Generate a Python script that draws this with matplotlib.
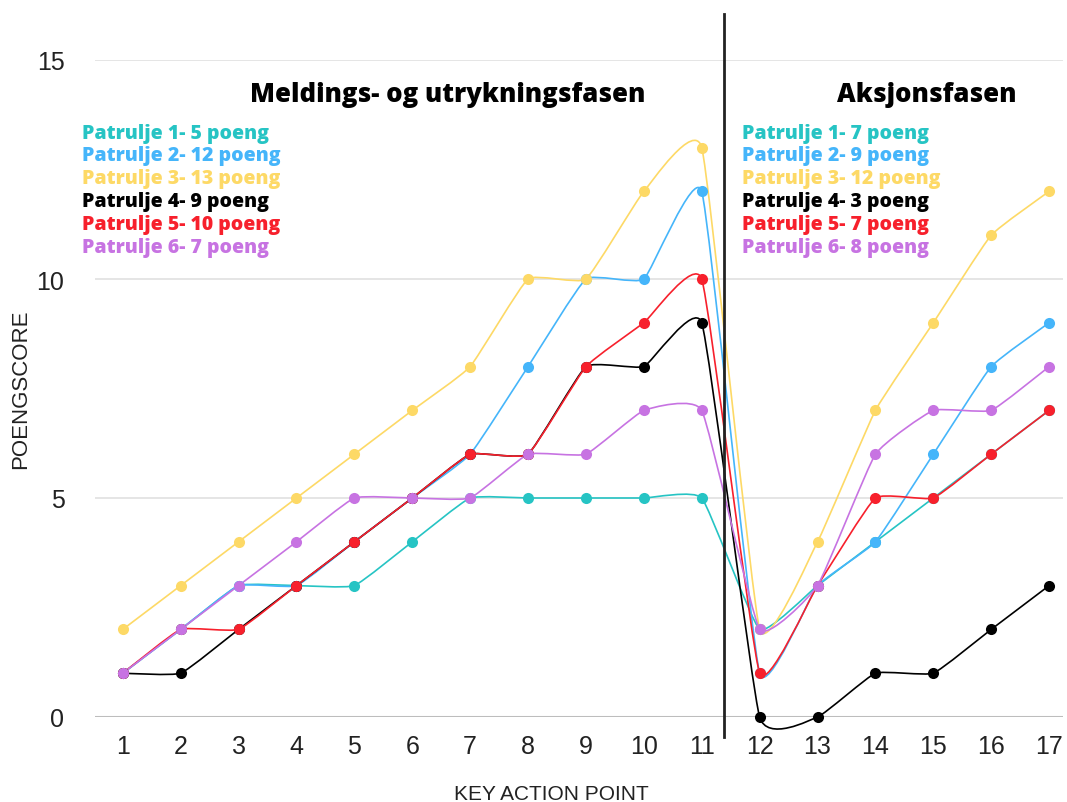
import numpy as np
import matplotlib
matplotlib.use("Agg")
import matplotlib.pyplot as plt
from matplotlib.path import Path
from matplotlib.patches import PathPatch

# key action points and scores
points = list(range(1, 18))
patrulje1 = [1, 2, 3, 3, 3, 4, 5, 5, 5, 5, 5, 2, 3, 4, 5, 6, 7]
patrulje2 = [1, 2, 3, 3, 4, 5, 6, 8, 10, 10, 12, 1, 3, 4, 6, 8, 9]
patrulje3 = [2, 3, 4, 5, 6, 7, 8, 10, 10, 12, 13, 2, 4, 7, 9, 11, 12]
patrulje4 = [1, 1, 2, 3, 4, 5, 6, 6, 8, 8, 9, 0, 0, 1, 1, 2, 3]
patrulje5 = [1, 2, 2, 3, 4, 5, 6, 6, 8, 9, 10, 1, 3, 5, 5, 6, 7]
patrulje6 = [1, 2, 3, 4, 5, 5, 5, 6, 6, 7, 7, 2, 3, 6, 7, 7, 8]

series = [patrulje1, patrulje2, patrulje3, patrulje4, patrulje5, patrulje6]
colors = ["#26c4c4", "#45b5fa", "#fdd966", "#000000", "#f7202c", "#c773e2"]

labels_fase1 = ["Patrulje 1- 5 poeng", "Patrulje 2- 12 poeng", "Patrulje 3- 13 poeng",
                "Patrulje 4- 9 poeng", "Patrulje 5- 10 poeng", "Patrulje 6- 7 poeng"]
labels_fase2 = ["Patrulje 1- 7 poeng", "Patrulje 2- 9 poeng", "Patrulje 3- 12 poeng",
                "Patrulje 4- 3 poeng", "Patrulje 5- 7 poeng", "Patrulje 6- 8 poeng"]


def smooth_path(x, y, s=0.065):
    # bezier path through the points, control points from neighbours
    p = np.column_stack([x, y]).astype(float)
    n = len(p)
    verts = [p[0]]
    codes = [Path.MOVETO]
    for i in range(n - 1):
        prev = p[i - 1] if i > 0 else p[i]
        nxt = p[i + 2] if i + 2 < n else p[i + 1]
        c1 = p[i] + (p[i + 1] - prev) * s
        c2 = p[i + 1] - (nxt - p[i]) * s
        verts += [c1, c2, p[i + 1]]
        codes += [Path.CURVE4] * 3
    return Path(verts, codes)


fig = plt.figure(figsize=(10.67, 8.03), dpi=100)
ax = fig.add_axes([95 / 1067, 85 / 803, 968 / 1067, 657 / 803])

for vals, c in zip(series, colors):
    ax.add_patch(PathPatch(smooth_path(points, vals), fill=False, edgecolor=c, lw=1.2,
                           zorder=3, clip_on=False))
    ax.plot(points, vals, "o", color=c, ms=8, mec="none", zorder=4, clip_on=False)

ax.set_xlim(0.52, 17.24)
ax.set_ylim(0, 15)
ax.set_xticks(points)
ax.set_yticks([0, 5, 10, 15])
for side in ["top", "right", "left", "bottom"]:
    ax.spines[side].set_visible(False)
ax.tick_params(length=0, labelsize=18, pad=12)
ax.tick_params(axis="y", pad=22)
for lab in ax.get_xticklabels() + ax.get_yticklabels():
    lab.set_family(["Liberation Sans", "DejaVu Sans"])
    lab.set_color("#222222")
for v in [5, 10, 15]:
    ax.axhline(v, color="#e0e0e0", lw=1.2, zorder=1)
ax.axhline(0, color="#bdbdbd", lw=1.5, zorder=1)

ax.set_xlabel("KEY ACTION POINT", fontsize=15, family=["Liberation Sans", "DejaVu Sans"], color="#222222")
ax.set_ylabel("POENGSCORE", fontsize=16, family=["Liberation Sans", "DejaVu Sans"], color="#222222")
ax.xaxis.set_label_coords(0.471, -0.102)
ax.yaxis.set_label_coords(-0.066, 0.5)

# phase divider
ax.plot([11.38, 11.38], [-0.45, 16.05], color="#222222", lw=2, clip_on=False, zorder=5)

ax.text(6.62, 14.22, "Meldings- og utrykningsfasen", fontsize=18.5, fontweight="heavy",
        family=["Open Sans", "DejaVu Sans"], ha="center", va="center")
ax.text(14.89, 14.22, "Aksjonsfasen", fontsize=18.5, fontweight="heavy",
        family=["Open Sans", "DejaVu Sans"], ha="center", va="center")

for i, (l1, l2, c) in enumerate(zip(labels_fase1, labels_fase2, colors)):
    y = 13.34 - i * 0.52
    ax.text(0.29, y, l1, color=c, fontsize=14, fontweight="heavy",
            family=["Open Sans", "DejaVu Sans"], va="center", ha="left")
    ax.text(11.70, y, l2, color=c, fontsize=14, fontweight="heavy",
            family=["Open Sans", "DejaVu Sans"], va="center", ha="left")

fig.savefig("out.png", dpi=100)
